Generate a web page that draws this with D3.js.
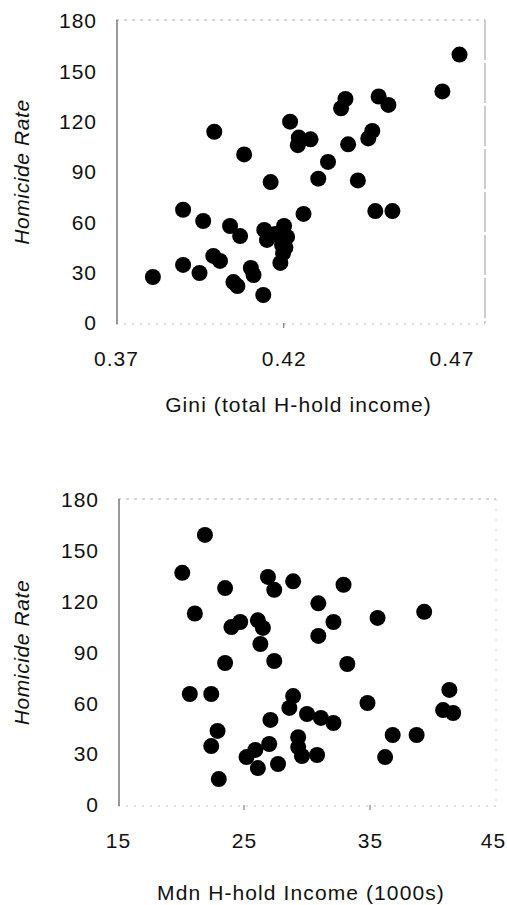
<!DOCTYPE html>
<html>
<head>
<meta charset="utf-8">
<script src="https://cdn.jsdelivr.net/npm/d3@7"></script>
<style>
  html, body { margin: 0; padding: 0; background: #fff; }
  svg { display: block; }
  text { font-family: "Liberation Sans", Arial, sans-serif; fill: #111; }
</style>
</head>
<body>
<svg id="chart" width="507" height="905"></svg>
<script>
// ---- Data ----
const giniValues = [0.4724,0.4673,0.4483,0.4512,0.4384,0.4371,0.4219,0.3993,0.4464,0.4452,0.4245,0.4280,0.4242,0.4392,0.4082,0.4332,0.4161,0.4303,0.4421,0.3900,0.4473,0.4524,0.4259,0.3960,0.4040,0.4070,0.4142,0.4201,0.4150,0.4210,0.4195,0.4198,0.4190,0.3990,0.4010,0.3900,0.3810,0.3949,0.4102,0.4110,0.4050,0.4062,0.4139,0.4175,0.4205];
const giniRates  = [160,138,135,130,133.5,128,120,114,114.5,110,110.5,109.5,106,106.5,100.5,96,84,86,85,67.5,66.7,66.7,65,60.8,57.8,51.8,55.5,57.8,49.5,51.3,46.5,41.7,35.8,40,37,34.6,27.4,29.8,32.8,28.6,24.4,22,16.7,53,45];

const incomeValues = [21.9,20.1,23.5,26.9,27.4,28.9,32.9,30.9,21.1,39.3,35.6,32.1,24.7,24.0,26.1,26.5,30.9,26.3,23.5,27.4,33.2,20.7,22.4,28.9,28.6,34.8,41.3,40.8,41.6,30.0,31.1,32.1,27.1,22.9,22.4,36.8,38.7,29.3,29.3,27.0,29.6,30.8,36.2,25.9,25.2,26.1,27.7,23.0];
const incomeRates  = [159.4,137,128,134.6,127,132,130,119,113,114,110.4,108,108,105,109,104.5,99.8,95,83.8,85,83.2,65.5,65.5,64.3,57.3,60.2,67.9,56,54.3,53.7,51.4,48.4,50.2,43.7,34.8,41.3,41.3,40,34.2,36,28.9,29.5,28.3,32.5,28.3,21.8,24.2,15.3];

const rateTicks = [0,30,60,90,120,150,180];
const giniTicks = [0.37,0.42,0.47];
const incomeTicks = [15,25,35,45];

const yTitle = "Homicide Rate";
const giniTitle = "Gini (total H-hold income)";
const incomeTitle = "Mdn H-hold Income (1000s)";

const svg = d3.select("#chart");

function panel(cfg) {
  const g = svg.append("g");
  const x = d3.scaleLinear().domain(cfg.xDomain).range(cfg.xRange);
  const y = d3.scaleLinear().domain([0,180]).range(cfg.yRange);
  const [x0, x1] = cfg.xRange;
  const [yb, yt] = cfg.yRange;

  // faint frame (top, right, bottom)
  g.append("line").attr("x1", x0).attr("x2", x1).attr("y1", yt-1).attr("y2", yt-1)
    .attr("stroke", "#aaa").attr("stroke-width", 1).attr("stroke-dasharray", "3,5");
  g.append("line").attr("x1", x1).attr("x2", x1).attr("y1", yt-1).attr("y2", yb)
    .attr("stroke", cfg.rightColor).attr("stroke-width", 1).attr("stroke-dasharray", cfg.rightDash);
  g.append("line").attr("x1", x0).attr("x2", x1).attr("y1", yb+1).attr("y2", yb+1)
    .attr("stroke", "#bbb").attr("stroke-width", 1).attr("stroke-dasharray", "2,6");

  // left axis line
  g.append("line").attr("x1", x0+1).attr("x2", x0+1).attr("y1", yt-1).attr("y2", yb+1)
    .attr("stroke", "#555").attr("stroke-width", 1.2);

  // y axis via d3.axisLeft (labels only)
  const yAxis = g.append("g").attr("transform", `translate(${x0},0)`)
    .call(d3.axisLeft(y).tickValues(rateTicks).tickSize(0).tickPadding(19).tickFormat(d3.format("d")));
  yAxis.select(".domain").remove();
  yAxis.selectAll("text").style("font-size", "21px").style("letter-spacing", "1px")
    .style("font-family", "'Liberation Sans', Arial, sans-serif").attr("fill", "#111");

  // x axis labels
  const xAxis = g.append("g").attr("transform", `translate(0,${yb})`)
    .call(d3.axisBottom(x).tickValues(cfg.xTicks).tickSize(0).tickPadding(cfg.xPad).tickFormat(cfg.xFormat));
  xAxis.select(".domain").remove();
  xAxis.selectAll("text").style("font-size", "21px").style("letter-spacing", "1px")
    .style("font-family", "'Liberation Sans', Arial, sans-serif").attr("fill", "#111")
    .attr("dx", (d, i) => i === cfg.xTicks.length - 1 ? cfg.lastDx : 0);

  // small tick marks
  g.selectAll(".tm").data(cfg.tickMarks).enter().append("line")
    .attr("x1", d => x(d)).attr("x2", d => x(d))
    .attr("y1", yb).attr("y2", yb+5).attr("stroke", "#666").attr("stroke-width", 1);

  // points
  g.selectAll("circle").data(cfg.xs.map((v,i) => [v, cfg.ys[i]])).enter().append("circle")
    .attr("cx", d => x(d[0])).attr("cy", d => y(d[1])).attr("r", 8).attr("fill", "#000");

  // titles
  g.append("text").attr("x", (x0 + x1)/2 + cfg.titleShift).attr("y", cfg.titleY)
    .attr("text-anchor", "middle").style("font-size", "21px").style("letter-spacing", "1.1px")
    .text(cfg.xTitle);
  g.append("text").attr("transform", `translate(29,${(yb+yt)/2}) rotate(-90)`)
    .attr("text-anchor", "middle").style("font-size", "21px").style("font-style", "italic")
    .style("letter-spacing", "0.6px").text(yTitle);
}

panel({
  xDomain: [0.37, 0.48], xRange: [116, 485], yRange: [323, 21],
  xTicks: giniTicks, xFormat: d3.format(".2f"), xPad: 28, lastDx: 0,
  tickMarks: [0.42],
  xs: giniValues, ys: giniRates,
  xTitle: giniTitle, titleY: 412, titleShift: -2,
  rightColor: "#999", rightDash: "40,3"
});

panel({
  xDomain: [15, 45], xRange: [118, 496], yRange: [805, 500],
  xTicks: incomeTicks, xFormat: d3.format("d"), xPad: 28, lastDx: -3,
  tickMarks: [25, 35],
  xs: incomeValues, ys: incomeRates,
  xTitle: incomeTitle, titleY: 900, titleShift: -6,
  rightColor: "#ccc", rightDash: "2,8"
});
</script>
</body>
</html>
